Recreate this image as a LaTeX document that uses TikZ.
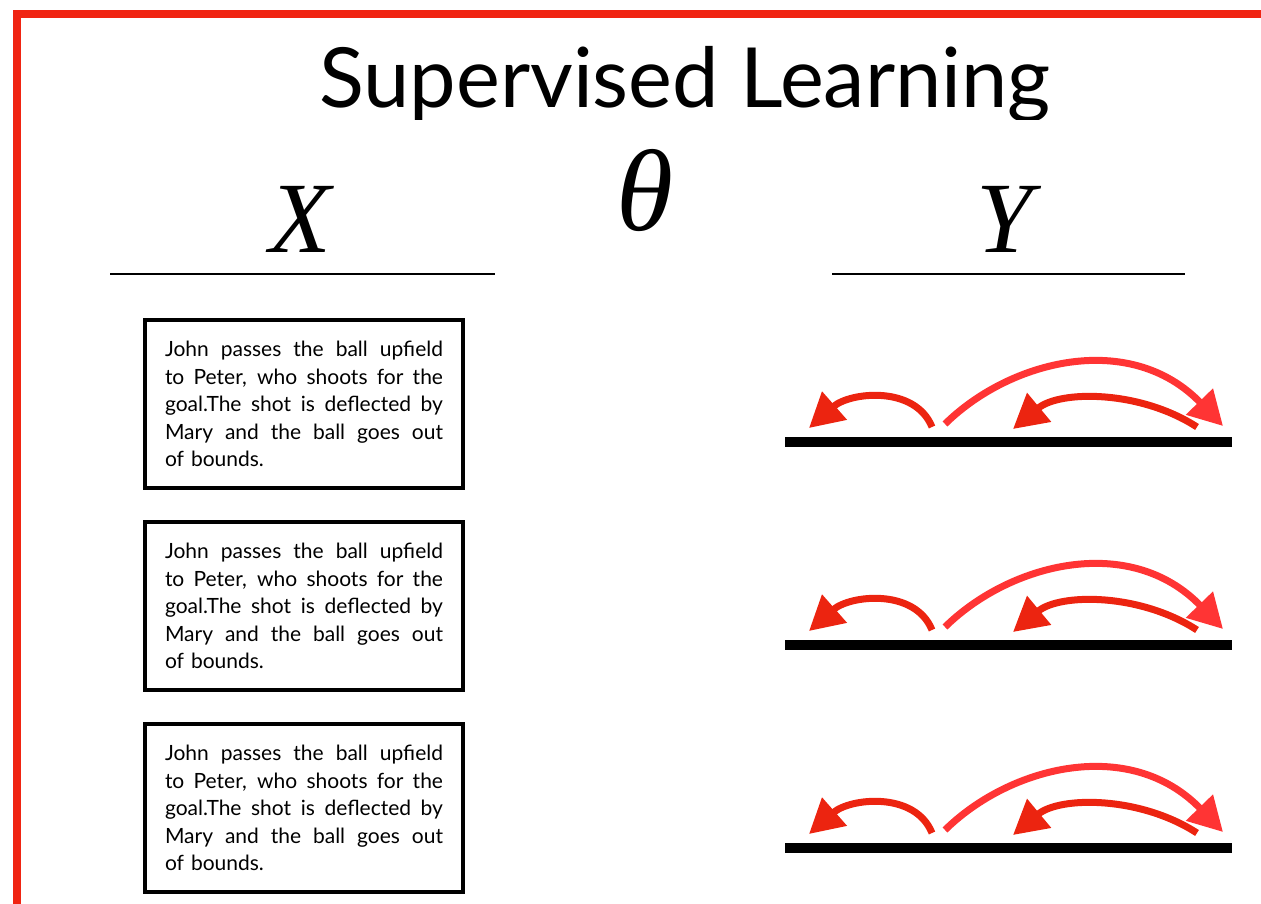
\documentclass[tikz,border=0pt]{standalone}
\usepackage{fontspec}
\setmainfont{Lato}
\newfontfamily\symbfont{Liberation Serif}
\usepackage{tikz}
\usetikzlibrary{arrows.meta}
\definecolor{framered}{RGB}{240,36,18}
\definecolor{movedark}{RGB}{236,36,16}
\definecolor{movelight}{RGB}{255,52,52}
\newcommand{\playline}[1]{\makebox[278pt][s]{\spaceskip=0.25em plus 1fil\relax #1}}
\tikzset{
  slidetitle/.style = {font=\fontsize{83}{90}\selectfont, anchor=base, inner sep=0pt},
  varlbl/.style     = {font=\fontsize{101}{110}\selectfont\symbfont\itshape, anchor=base,
                       inner sep=0pt},
  playbox/.style    = {rectangle, draw=black, line width=4pt, text width=278pt,
                       inner xsep=20pt, minimum height=168pt, align=left,
                       font=\fontsize{21}{27.4}\selectfont},
  headrule/.style   = {draw=black, line width=2pt},
  fieldbar/.style   = {draw=black, line width=10pt},
  movefwd/.style    = {-{Triangle[length=34pt,width=36pt]}, draw=movelight, line width=7pt},
  moveback/.style   = {-{Triangle[length=34pt,width=36pt]}, draw=movedark, line width=7pt},
}

\begin{document}
\begin{tikzpicture}[x=1pt, y=-1pt]
  \useasboundingbox (0,0) rectangle (1261,904);
  \draw[framered, line width=8pt] (17.3,904) -- (17.3,13.7) -- (1261,13.7);

  \begin{scope}
    \clip (0,0) rectangle (1261,120);
    \node[slidetitle] (title) at (685,108) {Supervised Learning};
  \end{scope}

  \node[varlbl] (xlbl)  at (300,252) {X};
  \node[varlbl, font=\fontsize{116}{120}\selectfont\symbfont\itshape] (theta) at (645,231) {θ};
  \node[varlbl] (ylbl)  at (1005,252) {Y};
  \draw[headrule] (110,274) -- (495,274);
  \draw[headrule] (832,274) -- (1185,274);

  % the three play descriptions
  \node[playbox] (play1) at (304,404) {\playline{John passes the ball upfield}\\
    \playline{to Peter, who shoots for the}\\ \playline{goal.The shot is deflected by}\\
    \playline{Mary and the ball goes out}\\ of bounds.};
  \node[playbox] (play2) at (304,606) {\playline{John passes the ball upfield}\\
    \playline{to Peter, who shoots for the}\\ \playline{goal.The shot is deflected by}\\
    \playline{Mary and the ball goes out}\\ of bounds.};
  \node[playbox] (play3) at (304,808) {\playline{John passes the ball upfield}\\
    \playline{to Peter, who shoots for the}\\ \playline{goal.The shot is deflected by}\\
    \playline{Mary and the ball goes out}\\ of bounds.};

  % field line with the passes above it
  \foreach \r/\d in {1/0, 2/203, 3/406} {
    \coordinate (bar\r w) at (785,442+\d);
    \coordinate (bar\r e) at (1232,442+\d);
    \coordinate (back\r s) at (932,427+\d);
    \coordinate (back\r t) at (809,428+\d);
    \coordinate (long\r s) at (945,424+\d);
    \coordinate (long\r t) at (1223,426+\d);
    \coordinate (mid\r s)  at (1197,427+\d);
    \coordinate (mid\r t)  at (1013,429+\d);
    \draw[fieldbar] (bar\r w) -- (bar\r e);
    \draw[moveback] (back\r s) .. controls (915,385+\d) and (850,392+\d) .. (back\r t);
    \draw[movefwd]  (long\r s) .. controls (1010,360+\d) and (1130,330+\d) .. (long\r t);
    \draw[moveback] (mid\r s) .. controls (1140,390+\d) and (1060,390+\d) .. (mid\r t);
  }
\end{tikzpicture}
\end{document}
